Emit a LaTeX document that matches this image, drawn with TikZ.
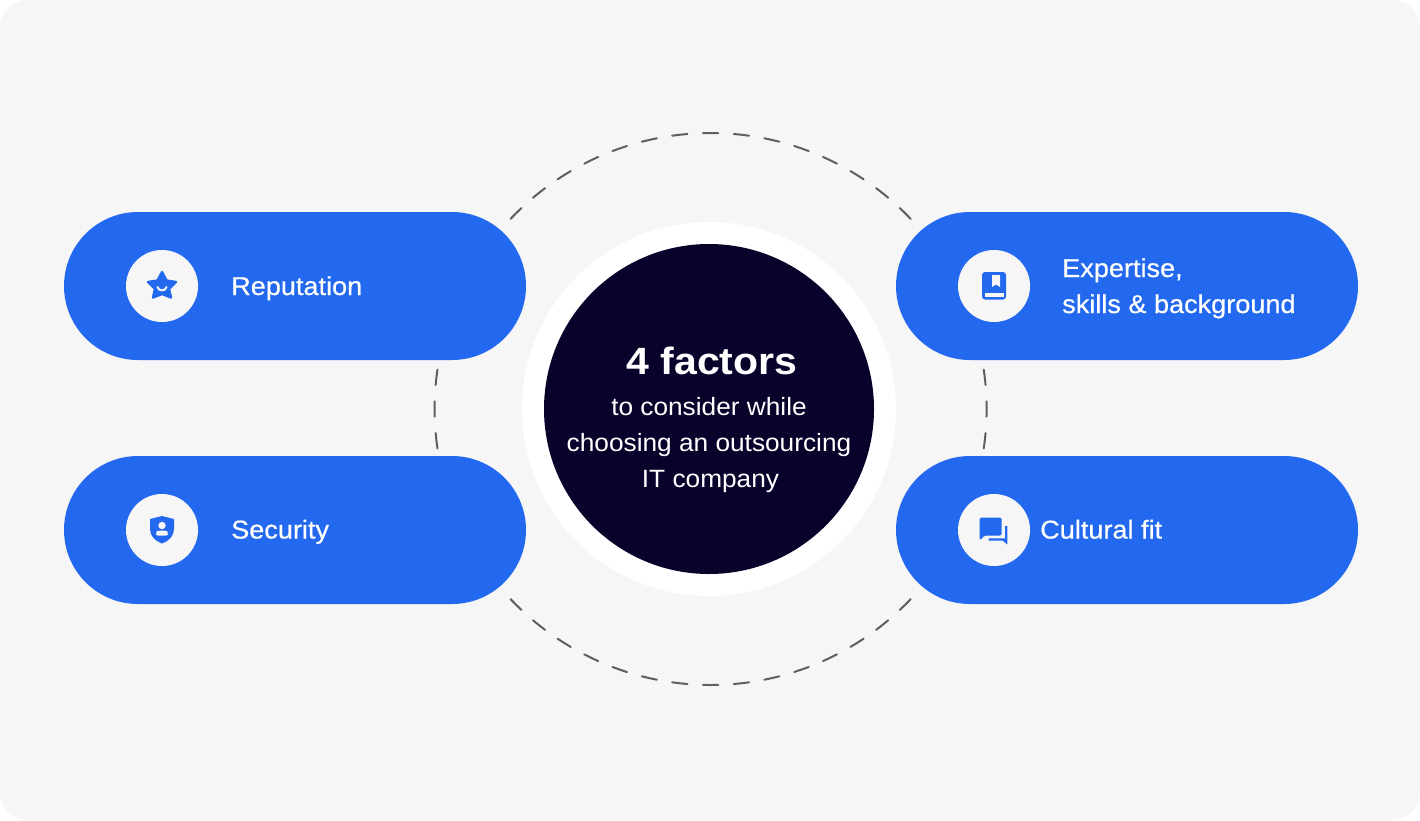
\documentclass[tikz,border=0pt]{standalone}
\usepackage{fontspec}
\setmainfont{Liberation Sans}
\newfontfamily\medfont[FakeBold=0.5,FakeStretch=1.05]{Liberation Sans}
\newfontfamily\subfont[FakeStretch=1.05]{Liberation Sans}
\newfontfamily\headfont[FakeStretch=1.08]{Liberation Sans}
\definecolor{pagebg}{HTML}{F6F6F6}
\definecolor{pillblue}{HTML}{2369F0}
\definecolor{darknavy}{HTML}{08032B}
\definecolor{dashgrey}{HTML}{5F5F5F}
\tikzset{
  pill/.style={fill=pillblue,draw=none,rounded corners=74pt,minimum width=462pt,minimum height=148pt,inner sep=0pt},
  iconbadge/.style={circle,fill=pagebg,draw=none,minimum size=72pt,inner sep=0pt},
  pilltext/.style={anchor=base west,inner sep=0pt,text=white,font=\medfont\fontsize{25.8}{36}\selectfont,align=left},
  ringdash/.style={draw=dashgrey,line width=2pt,line cap=round},
  iconfill/.style={fill=pillblue,draw=none},
  iconcut/.style={fill=pagebg,draw=none}
}
\newcommand{\ringseg}[1]{%
  \draw[ringdash] ({710.6+276*cos(#1-1.6)},{409-276*sin(#1-1.6)}) -- ({710.6+276*cos(#1)},{409-276*sin(#1)}) -- ({710.6+276*cos(#1+1.6)},{409-276*sin(#1+1.6)});}
\begin{document}
\begin{tikzpicture}[x=1pt,y=-1pt]
\useasboundingbox (0,0) rectangle (1420,820);
\fill[white] (0,0) rectangle (1420,820);
\fill[pagebg,rounded corners=28pt] (0,0) rectangle (1420,820);
% dashed ring
\foreach \k in {-7,...,7}{
  \pgfmathsetmacro{\ta}{90+\k*6.41}\ringseg{\ta}
  \pgfmathsetmacro{\tb}{270+\k*6.41}\ringseg{\tb}
}
\foreach \k in {-1,0,1}{
  \pgfmathsetmacro{\ta}{\k*6.6}\ringseg{\ta}
  \pgfmathsetmacro{\tb}{180+\k*6.6}\ringseg{\tb}
}
% pills
\node[pill] (repPill) at (295,286) {};
\node[pill] (secPill) at (295,530) {};
\node[pill] (expPill) at (1127,286) {};
\node[pill] (culPill) at (1127,530) {};
% centre
\node[circle,fill=white,minimum size=374pt,inner sep=0pt] (halo) at (709,409) {};
\node[circle,fill=darknavy,minimum size=330pt,inner sep=0pt] (core) at (709,409) {};
\node[text=white,inner sep=0pt,anchor=base,font=\headfont\fontsize{38}{40}\bfseries\selectfont] (title) at (712,374) {4 factors};
\node[text=white,inner sep=0pt,align=center,font=\subfont\fontsize{25}{36}\selectfont] (sub) at (709,445) {to consider while\\choosing an outsourcing\\\hspace{3pt}IT company};
% badges
\node[iconbadge] (repBadge) at (162,286) {};
\node[iconbadge] (secBadge) at (162,530) {};
\node[iconbadge] (expBadge) at (994,286) {};
\node[iconbadge] (culBadge) at (994,530) {};
% labels
\node[pilltext] (repText) at (231,295) {Reputation};
\node[pilltext] (secText) at (231,538.5) {Security};
\node[pilltext] (expText) at (1062,277) {Expertise,};
\node[pilltext] (expTextB) at (1062,313) {skills \& background};
\node[pilltext] (culText) at (1040,538.5) {Cultural fit};
% star icon
\fill[pillblue,draw=pillblue,line width=2.4pt,line join=round]
  (162,272) -- (166.5,280.5) -- (176,282) -- (169,289) -- (171,297.5) -- (162,294) -- (153,297.5) -- (155,289) -- (148,282) -- (157.5,280.5) -- cycle;
\draw[pagebg,line width=2pt,line cap=round] (157.5,287) .. controls (158.5,291.5) and (165.5,291.5) .. (166.5,287);
% shield icon
\fill[iconfill] (162,516) -- (174,519) -- (174,529) .. controls (174,536) and (169,541) .. (162,543.5) .. controls (155,541) and (150,536) .. (150,529) -- (150,519) -- cycle;
\fill[iconcut] (162,525.5) circle[radius=3.7pt];
\fill[iconcut,rounded corners=2pt] (156,535.5) -- (156,533) .. controls (157,530.5) and (167,530.5) .. (168,533) -- (168,535.5) -- cycle;
% book icon
\fill[iconfill,rounded corners=3pt] (982,272) rectangle (1006,299.5);
\fill[iconcut] (992,275) -- (1000,275) -- (1000,287) -- (996,284.5) -- (992,287) -- cycle;
\fill[iconcut] (984.5,292.5) rectangle (1004,296.5);
% chat icon
\fill[iconfill,rounded corners=1.5pt] (979.5,517.5) -- (1001.7,517.5) -- (1001.7,535.5) -- (984.5,535.5) -- (979.5,540.5) -- cycle;
\fill[iconfill] (1005,526) -- (1007.3,526) -- (1007.3,544.5) -- (1002.5,540.5) -- (988.5,540.5) -- (988.5,538.3) -- (1005,538.3) -- cycle;
\end{tikzpicture}
\end{document}
